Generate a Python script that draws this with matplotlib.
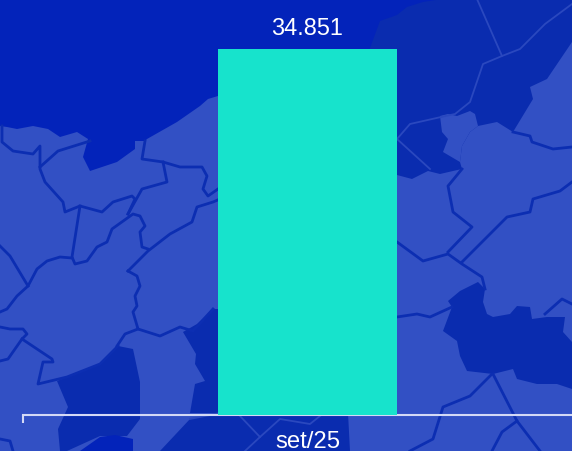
import matplotlib
matplotlib.use("Agg")
import matplotlib.pyplot as plt
from matplotlib.patches import Polygon

categories = ['set/25']
values = [34851]
value_labels = ['34.851']

SEA = '#0323ba'
DARK = '#0a2caf'
LIGHT = '#3250c4'
LINE = '#0c2eb2'
FAINT = '#2a48bf'
BAR = '#17e3cc'
AXIS = '#d3d9f6'

# background map outlines, in picture pixels
land_light = [(0,127),(7,128),(17,130),(33,127),(48,130),(60,138),(77,133),(88,140),(83,158),(90,172),(117,163),(135,150),(135,142),
              (145,142),(147,140),(177,123),(200,107),(208,100),(218,97),(397,88),(397,176),(412,180),(428,172),(440,175),(453,172),
              (462,170),(460,163),(462,147),(470,133),(478,127),(497,123),(513,133),(533,100),(530,88),(547,80),(572,43),
              (572,452),(0,452)]
enclave = [(440,117),(448,115),(457,117),(470,112),(475,115),(478,127),(470,133),(462,147),(460,163),(443,153),(448,140),(442,133)]
region_dark = [(370,49),(380,22),(397,16),(407,8),(423,3),(442,0),(572,0),(572,60),(480,180),(370,180)]
blob = [(448,302),(460,292),(478,283),(485,290),(483,303),(487,315),(493,318),(510,315),(517,307),(530,308),(532,320),(547,318),
        (565,318),(563,333),(572,343),(572,390),(557,385),(537,385),(517,380),(513,370),(493,375),(467,372),(460,357),(457,342),
        (443,332),(452,308)]
lake_left = [(57,382),(100,365),(118,347),(133,350),(140,383),(140,420),(127,437),(100,437),(67,452),(60,452),(58,430),(68,408)]
lake_mid = [(183,333),(197,325),(213,310),(218,310),(218,414),(190,414),(195,385),(205,382),(195,365),(196,355)]
bottom_dark = [(190,420),(220,414),(348,414),(350,452),(160,452)]
bottom_sea = [(80,452),(100,438),(115,436),(133,440),(133,452)]

borders = [
    [(2,127),(2,143),(13,152),(33,155),(40,147),(40,170),(45,183),(63,203),(65,213),(80,207),(102,213),(113,203),(132,197),(135,200),(128,215)],
    [(40,168),(58,152),(90,142)],
    [(80,207),(72,258),(75,265),(87,262),(97,248),(107,243),(112,230),(133,215),(140,217),(145,227),(140,233),(142,248),(148,250)],
    [(0,247),(10,257),(28,287)],
    [(0,313),(7,310),(17,297),(28,287),(37,270),(47,262),(60,258),(72,259)],
    [(128,272),(148,252),(170,235),(192,223),(197,208),(213,203),(220,200)],
    [(128,272),(137,277),(140,287),(135,297),(137,307),(133,313),(138,330),(160,337),(180,328),(193,332),(213,310)],
    [(138,330),(125,335),(117,347)],
    [(0,328),(10,330),(23,330),(27,335),(22,340),(52,360),(53,363),(43,363),(38,385),(67,378),(100,365),(118,347)],
    [(22,340),(8,360),(0,362)],
    [(145,142),(142,160),(163,163),(180,168),(202,168),(207,177),(203,190),(208,197),(218,190)],
    [(163,163),(167,183),(142,190),(128,215)],
    [(397,243),(423,262),(448,255),(462,265),(482,278),(485,290)],
    [(448,253),(472,228),(453,213),(448,187),(462,170)],
    [(462,263),(507,218),(530,213),(533,200),(560,192),(572,183)],
    [(513,133),(530,137),(532,143),(553,150),(572,148)],
    [(397,318),(417,315),(430,318),(452,308)],
    [(492,375),(470,397),(443,408),(433,440),(410,452)],
    [(493,375),(517,422),(540,452)],
    [(517,422),(502,433),(492,452)],
    [(545,315),(562,300),(572,305)],
    [(0,440),(10,442),(13,452)],
]
faint_lines = [
    [(477,0),(502,57),(483,65),(470,103),(455,115),(441,118)],
    [(502,57),(520,50),(545,25),(572,5)],
    [(397,140),(410,125),(441,118)],
    [(397,140),(430,170)],
    [(240,417),(260,438),(280,420),(310,425),(320,417)],
    [(260,438),(245,452)],
    [(190,420),(220,414)],
]

fig = plt.figure(figsize=(5.72, 4.52), dpi=100, facecolor=SEA)
plt.rcParams['font.family'] = ['Liberation Sans', 'DejaVu Sans']

# map behind the chart
bg = fig.add_axes([0, 0, 1, 1])
bg.set_xlim(0, 572)
bg.set_ylim(452, 0)
bg.axis('off')
bg.add_patch(Polygon(region_dark, closed=True, fc=DARK, ec='none'))
bg.add_patch(Polygon(land_light, closed=True, fc=LIGHT, ec='none'))
bg.add_patch(Polygon(enclave, closed=True, fc=LIGHT, ec='none'))
for shape in [blob, lake_left, lake_mid, bottom_dark]:
    bg.add_patch(Polygon(shape, closed=True, fc=DARK, ec='none'))
bg.add_patch(Polygon(bottom_sea, closed=True, fc=SEA, ec='none'))
for line in borders:
    bg.plot([p[0] for p in line], [p[1] for p in line], color=LINE, lw=2.0, solid_joinstyle='round')
for line in faint_lines:
    bg.plot([p[0] for p in line], [p[1] for p in line], color=FAINT, lw=1.3)

# the band runs past the right edge of the picture
ax = fig.add_axes([23 / 572, 36.5 / 452, 569 / 572, 366 / 452])
ax.patch.set_alpha(0)
bars = ax.bar(categories, values, width=0.315, color=BAR, zorder=3)
ax.bar_label(bars, labels=value_labels, padding=7, color='white', fontsize=16.9)
ax.set_xlim(-0.5, 0.5)
ax.set_ylim(0, max(values))

for side in ['top', 'left', 'right']:
    ax.spines[side].set_visible(False)
ax.spines['bottom'].set_color(AXIS)
ax.spines['bottom'].set_linewidth(1.5)
ax.set_yticks([])
ax.set_xticks([-0.5, 0.5])
ax.set_xticklabels(['', ''])
ax.tick_params(axis='x', which='major', length=5.5, width=1.5, color=AXIS)
ax.set_xticks([0], labels=categories, minor=True)
ax.tick_params(axis='x', which='minor', length=0, pad=11, labelsize=17.2, labelcolor='white')

fig.savefig('out.png', dpi=100, facecolor=fig.get_facecolor())
